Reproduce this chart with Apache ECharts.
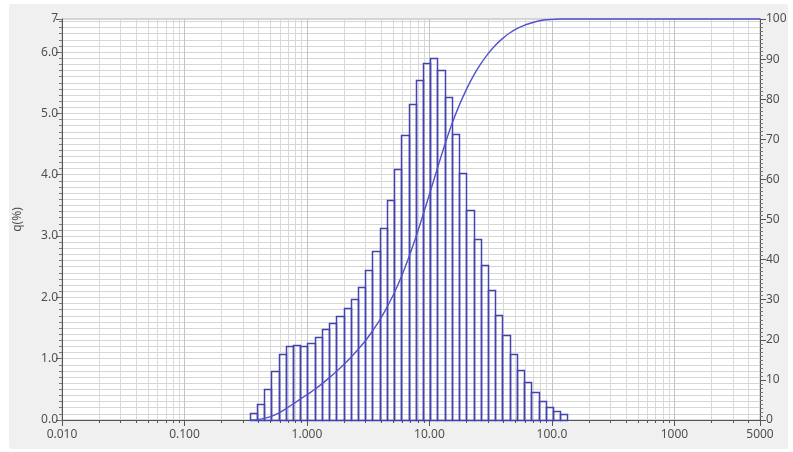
<!DOCTYPE html>
<html>
<head>
<meta charset="utf-8">
<script src="https://cdn.jsdelivr.net/npm/echarts@6/dist/echarts.min.js"></script>
<style>
html,body{margin:0;padding:0;background:#fff;}
#c{width:793px;height:452px;}
</style>
</head>
<body>
<div id="c"></div>
<script>
// Size-class bin edges (µm)
const binEdges = [0.3409,0.3905,0.4472,0.5122,0.5867,0.6720,0.7697,0.8816,1.0097,1.1565,1.3246,1.5172,1.7377,1.9904,2.2797,2.6111,2.9907,3.4255,3.9234,4.4938,5.1471,5.8953,6.7523,7.7339,8.8583,10.146,11.621,13.310,15.245,17.462,20.000,22.9075,26.2376,30.0518,34.4206,39.4244,45.1556,51.720,59.2387,67.8504,77.7141,89.0116,101.9515,116.7725,133.7481];
// Frequency q(%) per bin
const qValues = [0.12,0.26,0.50,0.80,1.08,1.20,1.22,1.20,1.25,1.36,1.48,1.59,1.70,1.82,1.98,2.17,2.44,2.76,3.13,3.59,4.10,4.64,5.15,5.55,5.82,5.90,5.71,5.27,4.66,4.03,3.43,2.95,2.52,2.12,1.71,1.38,1.08,0.82,0.62,0.45,0.31,0.22,0.15,0.09];
// Cumulative undersize (%) read at the bin edges
const cumValues = [0,0.1,0.4,0.9,1.7,2.8,4.0,5.2,6.4,7.6,9.0,10.5,12.1,13.8,15.6,17.6,19.7,22.2,24.9,28.1,31.6,35.7,40.4,45.5,51.1,56.9,62.8,68.5,73.8,78.4,82.4,85.9,88.8,91.3,93.4,95.1,96.5,97.6,98.4,99.0,99.5,99.8,99.9,100,100];
const cumTail = [[5000,100]];
// Axis labels
const xTickLabels = ['0.010','0.100','1.000','10.00','100.0','1000','5000'];
const yLeftMax = 6.54;
const yLeftTopLabel = '7';

const minorX = [];
for (let k = -2; k <= 3; k++) {
  for (let m = 2; m <= 9; m++) {
    const v = m * Math.pow(10, k);
    if (v < 5000) minorX.push(Number(v.toPrecision(3)));
  }
}

const barData = qValues.map((q, i) => [binEdges[i], binEdges[i + 1], q]);
const cumData = binEdges.map((e, i) => [e, cumValues[i]]).concat(cumTail);

const FONT = 'Noto Sans';
const LBL = {color: '#505050', fontFamily: FONT, fontSize: 12};
const BAR = '#4343b0';
const CURVE = '#5252cc';

const chart = echarts.init(document.getElementById('c'), null, {renderer: 'canvas'});
chart.setOption({
  animation: false,
  backgroundColor: '#ffffff',
  graphic: [{
    type: 'rect', z: -100, silent: true,
    shape: {x: 9, y: 4, width: 779, height: 445, r: 3},
    style: {fill: '#f0f0f0'}
  }],
  grid: {left: 62, right: 33, top: 19, bottom: 32, show: true, backgroundColor: '#ffffff', borderColor: '#b8b8b8', borderWidth: 1},
  xAxis: {
    type: 'log', logBase: 10, min: 0.01, max: 5000,
    axisLine: {show: true, onZero: false, lineStyle: {color: '#555'}},
    axisTick: {show: true, length: 6, lineStyle: {color: '#555'}},
    minorTick: {show: false},
    splitLine: {show: true, lineStyle: {color: '#c4c4c4', width: 1}},
    axisLabel: Object.assign({}, LBL, {
      margin: 9,
      formatter: function (v) {
        if (v > 4000) return xTickLabels[6];
        const k = Math.round(Math.log10(v));
        return xTickLabels[k + 2] || '';
      }
    })
  },
  yAxis: [{
    type: 'value', position: 'left', min: 0, max: yLeftMax, interval: 1,
    name: 'q(%)', nameLocation: 'middle', nameGap: 38, nameRotate: 90,
    nameTextStyle: {color: '#505050', fontFamily: FONT, fontSize: 12},
    axisLine: {show: true, lineStyle: {color: '#555'}},
    axisTick: {show: true, length: 6, lineStyle: {color: '#555'}},
    splitLine: {show: false},
    axisLabel: Object.assign({}, LBL, {
      margin: 4,
      formatter: function (v) { return v > 6.5 ? yLeftTopLabel : v.toFixed(1); }
    })
  }, {
    type: 'value', position: 'left', min: 0, max: yLeftMax, interval: 0.1,
    axisLine: {show: false},
    axisTick: {show: true, length: 3, lineStyle: {color: '#777'}},
    axisLabel: {show: false},
    splitLine: {show: true, lineStyle: {color: '#d6d6d6', width: 1}}
  }, {
    type: 'value', position: 'right', min: 0, max: 100, interval: 10,
    axisLine: {show: true, lineStyle: {color: '#555'}},
    axisTick: {show: true, length: 6, lineStyle: {color: '#555'}},
    minorTick: {show: true, splitNumber: 10, length: 3, lineStyle: {color: '#777'}},
    splitLine: {show: false},
    axisLabel: Object.assign({}, LBL, {margin: 6})
  }],
  series: [{
    type: 'custom', name: 'minorGrid', silent: true, z: 1,
    xAxisIndex: 0, yAxisIndex: 0,
    data: minorX.map(v => [v]),
    encode: {x: 0},
    renderItem: function (params, api) {
      const p = api.coord([api.value(0), 0]);
      const cs = params.coordSys;
      const x = Math.round(p[0]) + 0.5;
      const yb = cs.y + cs.height;
      return {type: 'group', children: [
        {type: 'line', shape: {x1: x, y1: cs.y, x2: x, y2: yb}, style: {stroke: '#d8d8d8', lineWidth: 1}},
        {type: 'line', shape: {x1: x, y1: yb, x2: x, y2: yb + 3}, style: {stroke: '#555', lineWidth: 1}}
      ]};
    }
  }, {
    type: 'custom', name: 'q', z: 2,
    xAxisIndex: 0, yAxisIndex: 0,
    data: barData,
    encode: {x: [0, 1], y: 2},
    renderItem: function (params, api) {
      const a = api.coord([api.value(0), api.value(2)]);
      const b = api.coord([api.value(1), 0]);
      const x0 = Math.round(a[0]) + 0.5, x1 = Math.round(b[0]) + 0.5;
      const y0 = Math.round(a[1]) + 0.5, y1 = Math.round(b[1]) + 0.5;
      return {type: 'rect', shape: {x: x0, y: y0, width: x1 - x0, height: y1 - y0},
        style: {fill: 'rgba(255,255,255,0)', stroke: BAR, lineWidth: 1.5}};
    }
  }, {
    type: 'line', name: 'Q', z: 3, clip: false,
    xAxisIndex: 0, yAxisIndex: 2,
    data: cumData, symbol: 'none', smooth: 0.3,
    lineStyle: {color: CURVE, width: 1.4}
  }]
});
</script>
</body>
</html>
